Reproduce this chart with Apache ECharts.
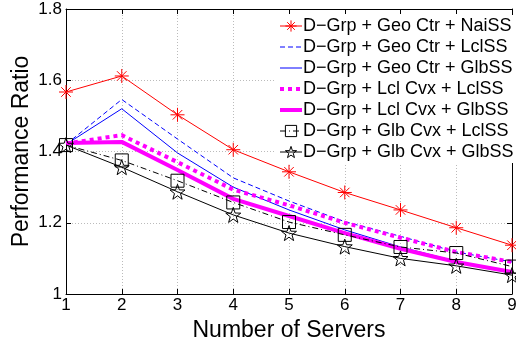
<!DOCTYPE html>
<html><head><meta charset="utf-8">
<script src="https://cdn.jsdelivr.net/npm/echarts@6/dist/echarts.min.js"></script>
<style>html,body{margin:0;padding:0;background:#fff}#c{width:516px;height:339px}</style>
</head><body><div id="c"></div>
<script>
var servers = [1, 2, 3, 4, 5, 6, 7, 8, 9];
var geoNai = [1.567, 1.612, 1.503, 1.405, 1.343, 1.285, 1.236, 1.186, 1.137];
var geoLcl = [1.42, 1.546, 1.435, 1.326, 1.261, 1.203, 1.162, 1.118, 1.09];
var geoGlb = [1.42, 1.52, 1.396, 1.3, 1.236, 1.18, 1.132, 1.092, 1.062];
var lclLcl = [1.422, 1.446, 1.37, 1.293, 1.249, 1.2, 1.158, 1.118, 1.09];
var lclGlb = [1.424, 1.427, 1.348, 1.267, 1.219, 1.171, 1.127, 1.09, 1.062];
var glbLcl = [1.418, 1.375, 1.318, 1.257, 1.202, 1.166, 1.132, 1.115, 1.077];
var glbGlb = [1.418, 1.356, 1.287, 1.222, 1.171, 1.133, 1.1, 1.079, 1.053];
var names = ['D\u2212Grp + Geo Ctr + NaiSS','D\u2212Grp + Geo Ctr + LclSS','D\u2212Grp + Geo Ctr + GlbSS',
  'D\u2212Grp + Lcl Cvx + LclSS','D\u2212Grp + Lcl Cvx + GlbSS','D\u2212Grp + Glb Cvx + LclSS','D\u2212Grp + Glb Cvx + GlbSS'];
var colors = ['#ff0000', '#0000ff', '#0000ff', '#ff00ff', '#ff00ff', '#000000', '#000000'];
var yTicks = [1, 1.2, 1.4, 1.6, 1.8];

function pairs(v){ return servers.map(function(x,i){ return [x, v[i]]; }); }
var FONT = 'Liberation Sans, Arial, Helvetica, sans-serif';
var asterisk = 'path://M0,5L10,5M5,0L5,10M1.6,1.6L8.4,8.4M1.6,8.4L8.4,1.6';
var star = 'path://M10,0L12.35,6.76L19.51,6.91L13.8,11.24L15.88,18.09L10,14L4.12,18.09L6.2,11.24L0.49,6.91L7.65,6.76Z';
var CLEAR = 'rgba(0,0,0,0)';

function ser(name, data, color, width, type, symbol, size){
  return {
    name: name, type: 'line', data: pairs(data), xAxisIndex: 0, yAxisIndex: 0,
    symbol: symbol || 'none', symbolSize: size || 0, showSymbol: !!symbol,
    lineStyle: {color: color, width: width, type: type, cap: 'butt'},
    itemStyle: symbol ? {color: CLEAR, borderColor: color, borderWidth: 1}
                      : {color: CLEAR, borderColor: CLEAR, borderWidth: 0},
    emphasis: {disabled: true}, animation: false, z: 2
  };
}
var hasSymbol = [true, false, false, false, false, true, true];
var legendData = names.map(function(n, i){
  return {name: n, itemStyle: hasSymbol[i]
    ? {color: CLEAR, borderColor: colors[i], borderWidth: 1}
    : {color: CLEAR, borderColor: CLEAR, borderWidth: 0}};
});

var chart = echarts.init(document.getElementById('c'));
chart.setOption({
  animation: false,
  grid: {left: 66, right: 4, top: 9, bottom: 45, containLabel: false, outerBoundsMode: 'none'},
  xAxis: [{
    type: 'value', min: 1, max: 9, interval: 1, position: 'bottom',
    name: 'Number of Servers', nameLocation: 'middle', nameGap: 23,
    nameTextStyle: {fontFamily: FONT, fontSize: 23, color: '#000'},
    axisLine: {lineStyle: {color: '#000', width: 1}},
    axisTick: {inside: true, length: 5, lineStyle: {color: '#000'}},
    axisLabel: {fontFamily: FONT, fontSize: 17, color: '#000', margin: 3},
    splitLine: {show: true, lineStyle: {color: '#bbb', type: [1, 2]}}
  }, {
    type: 'value', min: 1, max: 9, interval: 1, position: 'top',
    axisLine: {lineStyle: {color: '#000', width: 1}},
    axisTick: {inside: true, length: 5, lineStyle: {color: '#000'}},
    axisLabel: {show: false}, splitLine: {show: false}
  }],
  yAxis: [{
    type: 'value', min: yTicks[0], max: yTicks[yTicks.length-1], interval: 0.2, position: 'left',
    name: 'Performance Ratio', nameLocation: 'middle', nameGap: 33, nameMoveOverlap: false,
    nameTextStyle: {fontFamily: FONT, fontSize: 23, color: '#000'},
    axisLine: {show: true, lineStyle: {color: '#000', width: 1}},
    axisTick: {show: true, inside: true, length: 5, lineStyle: {color: '#000'}},
    axisLabel: {fontFamily: FONT, fontSize: 17, color: '#000', margin: 4,
      formatter: function(v){ return String(Math.round(v*10)/10); }},
    splitLine: {show: true, lineStyle: {color: '#bbb', type: [1, 2]}}
  }, {
    type: 'value', min: yTicks[0], max: yTicks[yTicks.length-1], interval: 0.2, position: 'right',
    axisLine: {show: true, lineStyle: {color: '#000', width: 1}},
    axisTick: {show: true, inside: true, length: 5, lineStyle: {color: '#000'}},
    axisLabel: {show: false}, splitLine: {show: false}
  }],
  legend: {
    orient: 'vertical', left: 276, top: 15, backgroundColor: '#fff',
    padding: [2, 4, 2, 2], itemGap: 3, itemWidth: 22, itemHeight: 14,
    lineStyle: {width: 'inherit'},
    textStyle: {fontFamily: FONT, fontSize: 18, color: '#000', padding: [0,0,0,-4]},
    data: legendData
  },
  series: [
    ser(names[0], geoNai, colors[0], 1, 'solid', asterisk, 14),
    ser(names[1], geoLcl, colors[1], 1, [5, 3]),
    ser(names[2], geoGlb, colors[2], 1, 'solid'),
    ser(names[3], lclLcl, colors[3], 4, [4, 4]),
    ser(names[4], lclGlb, colors[4], 4, 'solid'),
    ser(names[5], glbLcl, colors[5], 1, [6, 3, 1, 3], 'rect', 13),
    ser(names[6], glbGlb, colors[6], 1, 'solid', star, 15)
  ]
});
</script></body></html>
